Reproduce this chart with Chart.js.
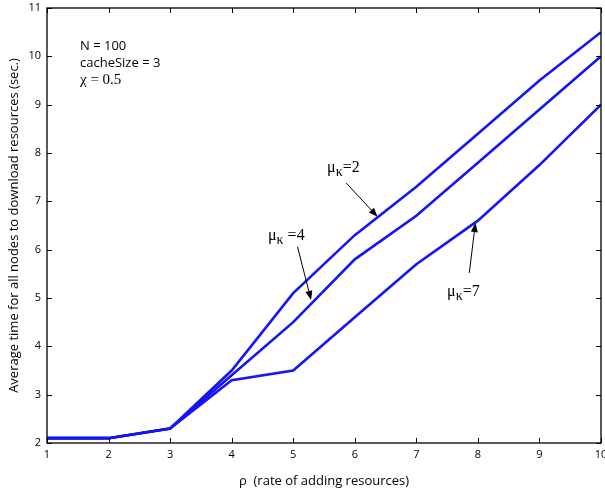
<!DOCTYPE html>
<html>
<head>
<meta charset="utf-8">
<script src="https://cdn.jsdelivr.net/npm/chart.js@4/dist/chart.umd.min.js"></script>
<style>
html,body{margin:0;padding:0;background:#fff;}
#wrap{width:605px;height:493px;position:relative;}
</style>
</head>
<body>
<div id="wrap"><canvas id="c" width="605" height="493"></canvas></div>
<script>
const rho = [1, 2, 3, 4, 5, 6, 7, 8, 9, 10];
const mu2 = [2.1, 2.1, 2.3, 3.5, 5.1, 6.3, 7.3, 8.4, 9.5, 10.5];
const mu4 = [2.1, 2.1, 2.3, 3.4, 4.5, 5.8, 6.7, 7.8, 8.9, 10.0];
const mu7 = [2.1, 2.1, 2.3, 3.3, 3.5, 4.6, 5.7, 6.6, 7.75, 9.0];
const xTicks = [1, 2, 3, 4, 5, 6, 7, 8, 9, 10];
const yTicks = [2, 3, 4, 5, 6, 7, 8, 9, 10, 11];
const infoLines = ["N = 100", "cacheSize = 3", "χ = 0.5"];
// annotations: label value, text anchor (data), arrow tail (data), arrow tip (data)
const annLabels = ["=2", " =4", "=7"];
const annText = [[5.55, 7.61], [4.59, 6.2], [7.5, 5.04]];
const annTail = [[5.86, 7.38], [5.07, 6.06], [7.86, 5.52]];
const annTip = [[6.37, 6.68], [5.29, 4.96], [7.96, 6.55]];

const sansFont = "'Open Sans', 'DejaVu Sans', sans-serif";
const serifFont = "'Liberation Serif', 'DejaVu Serif', serif";

const decor = {
  id: 'decor',
  afterDraw(chart) {
    const ctx = chart.ctx;
    const a = chart.chartArea;
    const xs = chart.scales.x, ys = chart.scales.y;
    ctx.save();
    ctx.strokeStyle = '#000';
    ctx.lineWidth = 1.3;
    ctx.strokeRect(a.left, a.top, a.right - a.left, a.bottom - a.top);
    ctx.lineWidth = 1;
    const tl = 5;
    xTicks.forEach(v => {
      const px = Math.round(xs.getPixelForValue(v)) + 0.5;
      ctx.beginPath();
      ctx.moveTo(px, a.bottom); ctx.lineTo(px, a.bottom - tl);
      ctx.moveTo(px, a.top); ctx.lineTo(px, a.top + tl);
      ctx.stroke();
    });
    yTicks.forEach(v => {
      const py = Math.round(ys.getPixelForValue(v)) + 0.5;
      ctx.beginPath();
      ctx.moveTo(a.left, py); ctx.lineTo(a.left + tl, py);
      ctx.moveTo(a.right, py); ctx.lineTo(a.right - tl, py);
      ctx.stroke();
    });
    ctx.fillStyle = '#000';
    ctx.textBaseline = 'alphabetic';
    ctx.textAlign = 'left';
    const ix = xs.getPixelForValue(1) + 33;
    const iy = ys.getPixelForValue(11) + 42;
    ctx.font = "13px " + sansFont;
    ctx.fillText(infoLines[0], ix, iy);
    ctx.fillText(infoLines[1], ix, iy + 17);
    ctx.font = "15px " + serifFont;
    ctx.fillText(infoLines[2], ix, iy + 34);
    for (let i = 0; i < annLabels.length; i++) {
      const tx = xs.getPixelForValue(annText[i][0]);
      const ty = ys.getPixelForValue(annText[i][1]);
      ctx.font = "16px " + serifFont;
      ctx.fillText("μ", tx, ty);
      let w = ctx.measureText("μ").width;
      ctx.font = "14px " + serifFont;
      ctx.fillText("κ", tx + w, ty + 4);
      w += ctx.measureText("κ").width;
      ctx.font = "16px " + serifFont;
      ctx.fillText(annLabels[i], tx + w, ty);
      const x0 = xs.getPixelForValue(annTail[i][0]), y0 = ys.getPixelForValue(annTail[i][1]);
      const x1 = xs.getPixelForValue(annTip[i][0]), y1 = ys.getPixelForValue(annTip[i][1]);
      const ang = Math.atan2(y1 - y0, x1 - x0);
      const hl = 9, hw = 3.5;
      ctx.lineWidth = 1;
      ctx.beginPath();
      ctx.moveTo(x0, y0);
      ctx.lineTo(x1 - hl * Math.cos(ang), y1 - hl * Math.sin(ang));
      ctx.stroke();
      ctx.beginPath();
      ctx.moveTo(x1, y1);
      ctx.lineTo(x1 - hl * Math.cos(ang) + hw * Math.sin(ang), y1 - hl * Math.sin(ang) - hw * Math.cos(ang));
      ctx.lineTo(x1 - hl * Math.cos(ang) - hw * Math.sin(ang), y1 - hl * Math.sin(ang) + hw * Math.cos(ang));
      ctx.closePath();
      ctx.fill();
    }
    ctx.restore();
  }
};

function mk(data) {
  return {
    data: rho.map((x, i) => ({x: x, y: data[i]})),
    borderColor: '#1414f5',
    borderWidth: 2.6,
    pointRadius: 0,
    tension: 0,
    fill: false
  };
}

new Chart(document.getElementById('c'), {
  type: 'line',
  data: { datasets: [mk(mu2), mk(mu4), mk(mu7)] },
  options: {
    responsive: false,
    animation: false,
    events: [],
    layout: { padding: { left: 0, right: 4, top: 8, bottom: 0 } },
    plugins: { legend: { display: false }, tooltip: { enabled: false } },
    scales: {
      x: {
        type: 'linear', min: 1, max: 10,
        afterFit: s => { s.height = 50; s.paddingLeft = 0; s.paddingRight = 0; },
        afterBuildTicks: s => { s.ticks = xTicks.map(v => ({value: v})); },
        grid: { display: false, drawTicks: false },
        border: { display: false },
        ticks: { color: '#000', font: { family: sansFont, size: 11 }, padding: 5, maxRotation: 0, autoSkip: false },
        title: { display: true, text: 'ρ  (rate of adding resources)', color: '#000', font: { family: sansFont, size: 13 }, padding: { top: 4 } }
      },
      y: {
        type: 'linear', min: 2, max: 11,
        afterFit: s => { s.width = 47; s.paddingTop = 0; s.paddingBottom = 0; },
        afterBuildTicks: s => { s.ticks = yTicks.map(v => ({value: v})); },
        grid: { display: false, drawTicks: false },
        border: { display: false },
        ticks: { color: '#000', font: { family: sansFont, size: 11 }, padding: 6, autoSkip: false },
        title: { display: true, text: 'Average time for all nodes to download resources (sec.)', color: '#000', font: { family: sansFont, size: 13 }, padding: { top: 6, bottom: 0 } }
      }
    }
  },
  plugins: [decor]
});
</script>
</body>
</html>
